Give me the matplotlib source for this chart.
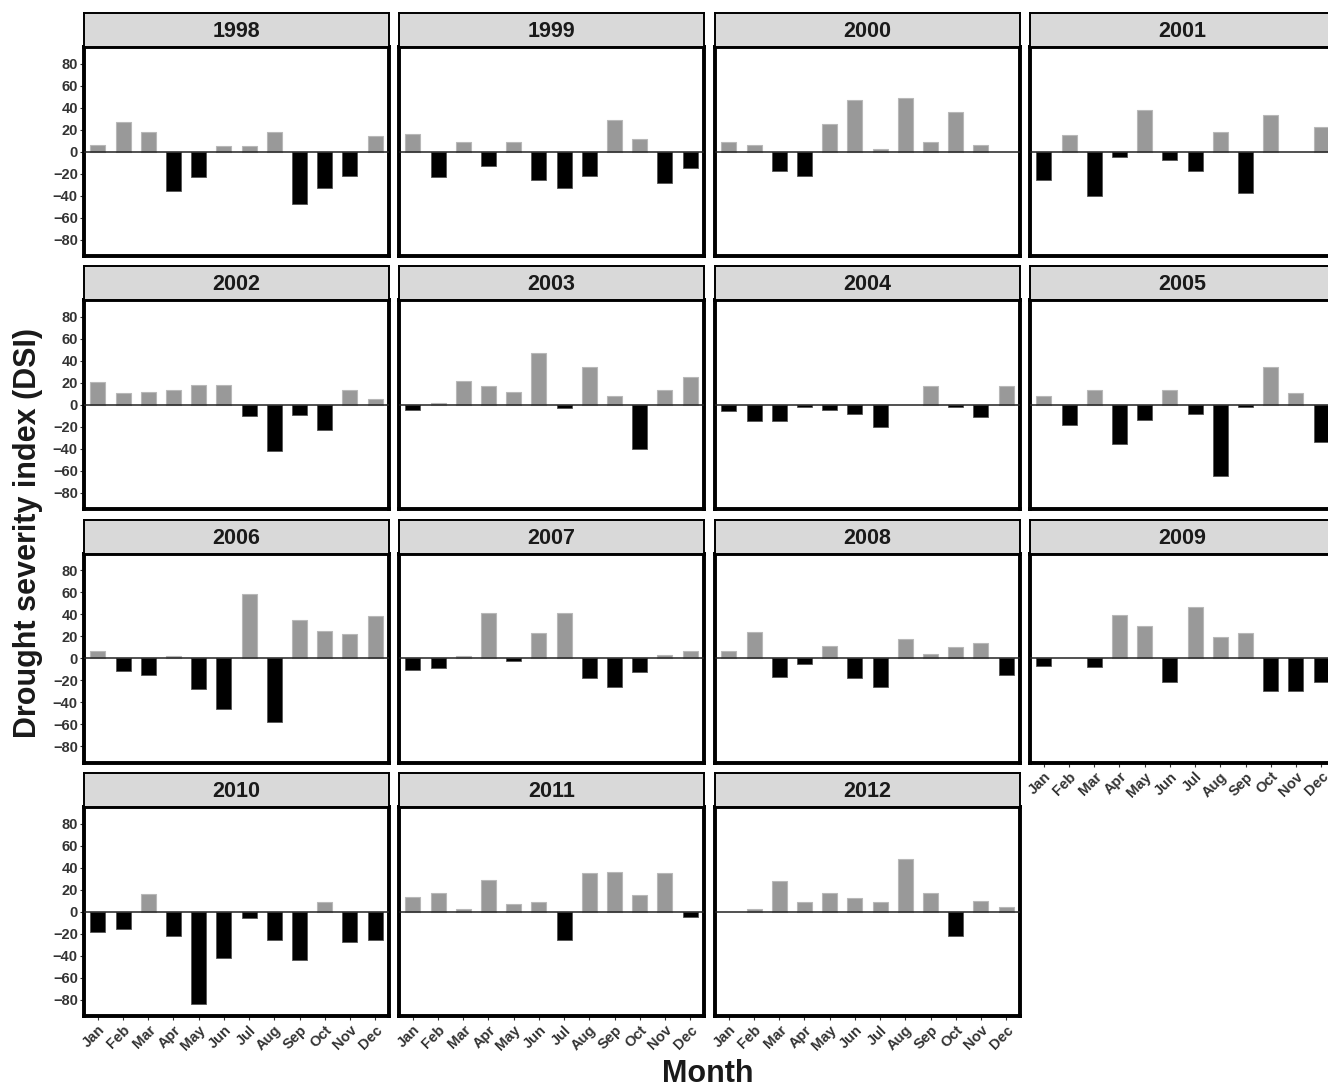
import matplotlib
matplotlib.use("Agg")
import matplotlib.pyplot as plt
import numpy as np

plt.rcParams['font.family'] = ['Liberation Sans', 'DejaVu Sans']

months = ["Jan", "Feb", "Mar", "Apr", "May", "Jun", "Jul", "Aug", "Sep", "Oct", "Nov", "Dec"]
years = [1998, 1999, 2000, 2001, 2002, 2003, 2004, 2005, 2006, 2007, 2008, 2009, 2010, 2011, 2012]

dsi_1998 = [6, 27, 18, -36, -23, 5, 5, 18, -48, -33, -22, 14]
dsi_1999 = [16, -23, 9, -13, 9, -26, -33, -22, 29, 11, -29, -15]
dsi_2000 = [9, 6, -18, -22, 25, 47, 2, 49, 9, 36, 6, 0]
dsi_2001 = [-26, 15, -40, -5, 38, -8, -18, 18, -38, 33, 0, 22]
dsi_2002 = [21, 11, 12, 13, 18, 18, -10, -42, -9, -23, 13, 5]
dsi_2003 = [-5, 2, 22, 17, 12, 47, -3, 34, 8, -40, 13, 25]
dsi_2004 = [-6, -15, -15, -2, -5, -8, -20, 0, 17, -2, -11, 17]
dsi_2005 = [8, -18, 13, -36, -14, 13, -8, -65, -2, 34, 11, -34]
dsi_2006 = [6, -12, -15, 2, -28, -46, 58, -58, 35, 25, 22, 38]
dsi_2007 = [-11, -9, 2, 41, -3, 23, 41, -18, -26, -13, 3, 6]
dsi_2008 = [6, 24, -17, -5, 11, -18, -26, 17, 4, 10, 14, -15]
dsi_2009 = [-7, 0, -8, 39, 29, -22, 46, 19, 23, -30, -30, -22]
dsi_2010 = [-19, -16, 16, -22, -84, -42, -6, -26, -44, 9, -28, -26]
dsi_2011 = [13, 17, 2, 29, 7, 9, -26, 35, 36, 15, 35, -5]
dsi_2012 = [0, 2, 28, 9, 17, 12, 9, 48, 17, -22, 10, 4]

series = [dsi_1998, dsi_1999, dsi_2000, dsi_2001, dsi_2002, dsi_2003, dsi_2004,
          dsi_2005, dsi_2006, dsi_2007, dsi_2008, dsi_2009, dsi_2010, dsi_2011, dsi_2012]
yticks = [-80, -60, -40, -20, 0, 20, 40, 60, 80]

W, H = 1328, 1088
fig = plt.figure(figsize=(W / 100, H / 100), dpi=100)

col_left = [84, 399, 715, 1030]
panel_w = 305
strip_h = 34
panel_h = 209
row_top = [13, 266.3, 519.6, 773]

x = np.arange(1, 13)
for i, (yr, vals) in enumerate(zip(years, series)):
    r, c = divmod(i, 4)
    left = col_left[c]
    top = row_top[r]
    ax = fig.add_axes([left / W, 1 - (top + strip_h + panel_h) / H, panel_w / W, panel_h / H])
    sax = fig.add_axes([left / W, 1 - (top + strip_h) / H, panel_w / W, strip_h / H])
    vals = np.array(vals, dtype=float)
    ax.bar(x[vals > 0], vals[vals > 0], width=0.6, color="#999999", edgecolor="#b8b8b8", linewidth=0.8, zorder=2)
    ax.bar(x[vals < 0], vals[vals < 0], width=0.6, color="#000000", edgecolor="#555555", linewidth=0.6, zorder=2)
    ax.axhline(0, color="#222222", linewidth=1.1, zorder=3)
    ax.set_xlim(0.45, 12.55)
    ax.set_ylim(-95, 95)
    for sp in ax.spines.values():
        sp.set_linewidth(2.8)
        sp.set_color("black")
    ax.set_yticks(yticks)
    ax.set_xticks(x)
    if c == 0:
        ax.set_yticklabels([str(v).replace("-", "\u2212") for v in yticks], fontsize=10.5,
                           fontweight="bold", color="#333333")
        ax.tick_params(axis="y", length=3, width=0.8, color="#333333", pad=1.5)
    else:
        ax.tick_params(axis="y", length=0, labelleft=False)
    if yr >= 2009:
        ax.set_xticklabels(months, rotation=45, ha="right", rotation_mode="anchor",
                           fontsize=10.5, fontweight="bold", color="#333333")
        ax.tick_params(axis="x", length=3, width=0.8, color="#333333", pad=2)
    else:
        ax.tick_params(axis="x", length=0, labelbottom=False)

    sax.set_facecolor("#d9d9d9")
    sax.set_xticks([])
    sax.set_yticks([])
    for sp in sax.spines.values():
        sp.set_linewidth(1.4)
        sp.set_color("black")
    sax.text(0.5, 0.45, str(yr), ha="center", va="center", fontsize=15.5, fontweight="bold",
             color="#1a1a1a", transform=sax.transAxes)

fig.text(28 / W, 1 - 533 / H, "Drought severity index (DSI)", rotation=90, ha="center", va="center",
         fontsize=22, fontweight="bold", color="#1a1a1a")
fig.text(708 / W, 1 - 1074 / H, "Month", ha="center", va="center",
         fontsize=22, fontweight="bold", color="#1a1a1a")

fig.savefig("out.png", dpi=100, facecolor="white")
